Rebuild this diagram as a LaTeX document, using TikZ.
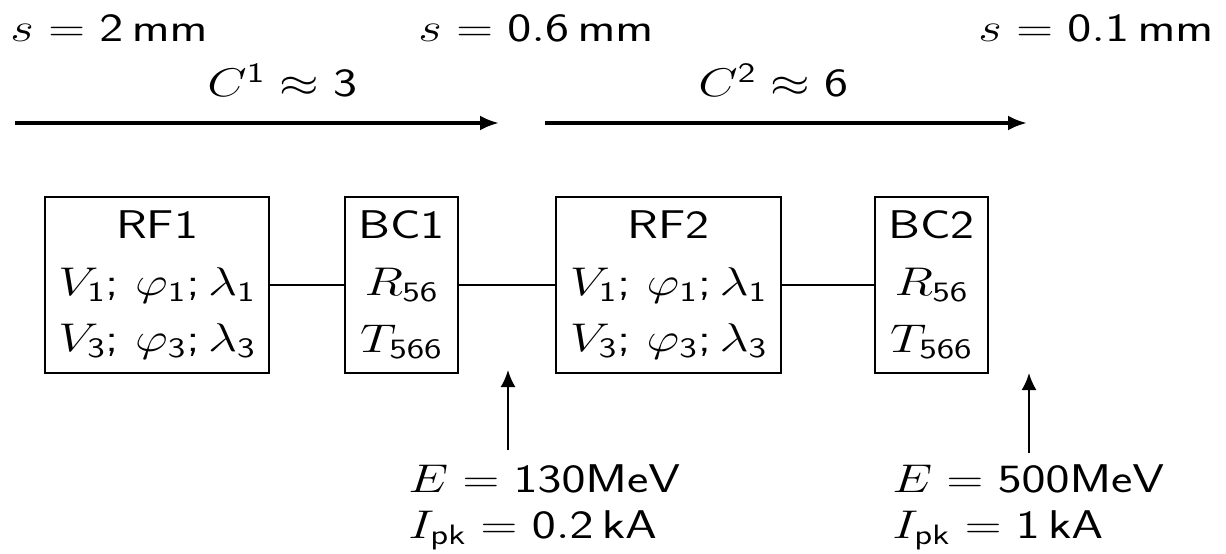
\RequirePackage{fix-cm}
\documentclass[tikz,border=0pt]{standalone}
\usepackage{amsmath,amssymb}
\usetikzlibrary{arrows.meta}
\SetSymbolFont{operators}{normal}{OT1}{cmss}{m}{n}
\definecolor{ink}{HTML}{000000}
\tikzset{
    >={Latex[length=3.8mm,width=3mm]},
    stretched/.style={xscale=1.27, transform shape},
    element/.style={draw=ink, line width=1.2pt, stretched, inner sep=0pt,
                    minimum height=3.52cm, align=center,
                    font=\sffamily\fontsize{22.8}{32.4}\selectfont},
    rfblock/.style={element, minimum width=3.53cm},
    bcblock/.style={element, minimum width=1.78cm},
    label text/.style={stretched, inner sep=0pt, text=ink,
                       font=\sffamily\fontsize{22.8}{27}\selectfont},
    drift/.style={ink, line width=2pt, ->},
    link/.style={ink, line width=1.2pt},
    probe/.style={ink, line width=1.2pt, -{Latex[length=3.4mm,width=3mm]}},
}

\begin{document}
\begin{tikzpicture}[font=\sffamily]
\useasboundingbox (0,0) rectangle (24.52,-11.06);

% ---------------------------------------------------------------------------
% Bunch length and compression factors
% ---------------------------------------------------------------------------
\node[label text, anchor=base west] (s0) at (0.20,-0.84) {$s = 2\,\mathrm{mm}$};
\node[label text, anchor=base west] (s1) at (8.36,-0.84) {$s = 0.6\,\mathrm{mm}$};
\node[label text, anchor=base west] (s2) at (19.56,-0.84) {$s = 0.1\,\mathrm{mm}$};

\node[label text, anchor=base west] (c1) at (4.14,-1.94) {$C^1 \approx 3$};
\node[label text, anchor=base west] (c2) at (13.96,-1.94) {$C^2 \approx 6$};

\coordinate (c1s) at (0.30,-2.46);
\coordinate (c1e) at (9.98,-2.46);
\coordinate (c2s) at (10.90,-2.46);
\coordinate (c2e) at (20.54,-2.46);
\draw[drift] (c1s) -- (c1e);
\draw[drift] (c2s) -- (c2e);

% ---------------------------------------------------------------------------
% Linac sections
% ---------------------------------------------------------------------------
\node[rfblock] (rf1) at (3.14,-5.70)
    {RF1\\ $V_1$; $\varphi_1;\lambda_1$\\ $V_3$; $\varphi_3;\lambda_3$};
\node[bcblock] (bc1) at (8.03,-5.70)
    {BC1\\ $R_{56}$\\ $T_{566}$};
\node[rfblock] (rf2) at (13.37,-5.70)
    {RF2\\ $V_1$; $\varphi_1;\lambda_1$\\ $V_3$; $\varphi_3;\lambda_3$};
\node[bcblock] (bc2) at (18.63,-5.70)
    {BC2\\ $R_{56}$\\ $T_{566}$};

\draw[link] (rf1.east) -- (bc1.west);
\draw[link] (bc1.east) -- (rf2.west);
\draw[link] (rf2.east) -- (bc2.west);

% ---------------------------------------------------------------------------
% Beam parameters after each compressor
% ---------------------------------------------------------------------------
\node[label text, anchor=base west] (e1) at (8.16,-9.84) {$E = 130\mathrm{MeV}$};
\node[label text, anchor=base west] (i1) at (8.16,-10.76) {$I_{\mathrm{pk}} = 0.2\,\mathrm{kA}$};
\node[label text, anchor=base west] (e2) at (17.84,-9.84) {$E = 500\mathrm{MeV}$};
\node[label text, anchor=base west] (i2) at (17.84,-10.76) {$I_{\mathrm{pk}} = 1\,\mathrm{kA}$};

\coordinate (p1s) at (10.16,-9.00);
\coordinate (p1e) at (10.16,-7.40);
\coordinate (p2s) at (20.58,-9.06);
\coordinate (p2e) at (20.58,-7.46);
\draw[probe] (p1s) -- (p1e);
\draw[probe] (p2s) -- (p2e);

\end{tikzpicture}
\end{document}
